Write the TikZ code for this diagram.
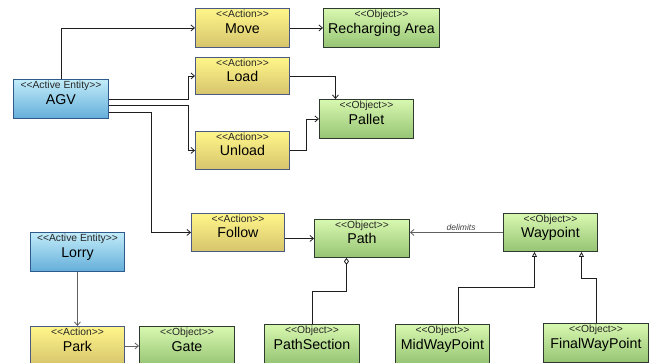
\documentclass[tikz,border=0pt]{standalone}
\usepackage{fontspec}
\setmainfont{Liberation Sans}
\usetikzlibrary{arrows.meta}
\definecolor{actT}{HTML}{FFF68A}
\definecolor{actD}{HTML}{D6C46C}
\definecolor{actB}{HTML}{4A5A82}
\definecolor{objT}{HTML}{D8F8B0}
\definecolor{objD}{HTML}{96C474}
\definecolor{objB}{HTML}{2E3A2E}
\definecolor{entT}{HTML}{C2ECF9}
\definecolor{entD}{HTML}{64AEDA}
\definecolor{entB}{HTML}{2F5A8C}
\definecolor{lineA}{HTML}{1E1E1E}
\definecolor{lineB}{HTML}{606060}
\tikzset{
  box/.style={draw, line width=0.9pt, anchor=north west, inner sep=0pt,
    font=\fontsize{14.2}{14.2}\selectfont, text height=10.2pt, text depth=0pt},
  stereo/.style={anchor=north, inner sep=0pt, yshift=-1.5pt,
    font=\fontsize{10.3}{10.3}\selectfont, text=black!85},
  actbox/.style={box, draw=actB, top color=actT, bottom color=actD,
    label={[stereo]north:<{}<Action>{}>}},
  objbox/.style={box, draw=objB, top color=objT, bottom color=objD,
    label={[stereo]north:<{}<Object>{}>}},
  entbox/.style={box, draw=entB, top color=entT, bottom color=entD,
    label={[stereo]north:<{}<Active Entity>{}>}},
  link/.style={draw=lineA, line width=0.8pt, -{Straight Barb[length=3.5pt,width=6pt]}},
  glink/.style={link, draw=lineB},
  gen/.style={draw=lineA, line width=0.8pt, -{Triangle[open,length=5pt,width=5pt,fill=white]}},
  agg/.style={draw=lineA, line width=0.8pt, -{Diamond[open,length=7pt,width=5pt,fill=white]}},
  rolelabel/.style={font=\fontsize{8.5}{8.5}\selectfont\itshape, text=black!75, inner sep=1pt}
}
\begin{document}
\begin{tikzpicture}[x=1pt,y=-1pt]
\useasboundingbox (0,0) rectangle (653,363);
% nodes
\node[entbox, minimum width=95pt, minimum height=39pt] (agv) at (13,79) {AGV};
\node[actbox, minimum width=94pt, minimum height=39pt] (move) at (195,8) {Move};
\node[actbox, minimum width=94pt, minimum height=37pt] (load) at (195,57) {Load};
\node[actbox, minimum width=94pt, minimum height=38pt] (unload) at (195,131) {Unload};
\node[objbox, minimum width=116pt, minimum height=39pt] (recharge) at (323,8) {Recharging Area};
\node[objbox, minimum width=94pt, minimum height=39pt] (pallet) at (319,99) {Pallet};
\node[entbox, minimum width=94pt, minimum height=39pt] (lorry) at (30,232) {Lorry};
\node[actbox, minimum width=94pt, minimum height=39pt] (park) at (30,326) {Park};
\node[objbox, minimum width=95pt, minimum height=39pt] (gate) at (139,326) {Gate};
\node[actbox, minimum width=93pt, minimum height=38pt] (follow) at (191,213) {Follow};
\node[objbox, minimum width=95pt, minimum height=38pt] (path) at (314,219) {Path};
\node[objbox, minimum width=94pt, minimum height=38pt] (waypoint) at (503,213) {Waypoint};
\node[objbox, minimum width=95pt, minimum height=39pt] (pathsec) at (264,324) {PathSection};
\node[objbox, minimum width=94pt, minimum height=39pt] (mid) at (395,324) {MidWayPoint};
\node[objbox, minimum width=105pt, minimum height=39pt] (final) at (543,323) {FinalWayPoint};
% connectors
\draw[link] (agv.north) |- (move.west);
\draw[link] (move.east) -- (recharge.west);
\draw[link] (agv.east) -- ++(79,0) |- (load.west);
\draw[link] ([yshift=-6.5pt]agv.east) -- ++(79,0) |- (unload.west);
\draw[link] ([yshift=-13.5pt]agv.east) -- ++(42,0) |- (follow.west);
\draw[link] (load.east) -| ([xshift=-31pt]pallet.north);
\draw[link] (unload.east) -- ++(16,0) |- (pallet.west);
\draw[link] (follow.east |- path.west) -- (path.west);
\draw[glink] (waypoint.west) -- node[rolelabel, above, pos=0.45] {delimits} (waypoint.west -| path.east);
\draw[agg] (pathsec.north) -- ++(0,-33) -| ([xshift=-15.5pt]path.south);
\draw[gen] ([xshift=16pt]mid.north) -- ++(0,-37) -| ([xshift=-16pt]waypoint.south);
\draw[gen] (final.north) -- ++(0,-45) -| ([xshift=31pt]waypoint.south);
\draw[glink] (lorry.south) -- (park.north);
\draw[glink] (park.east) -- (gate.west);
\end{tikzpicture}
\end{document}
